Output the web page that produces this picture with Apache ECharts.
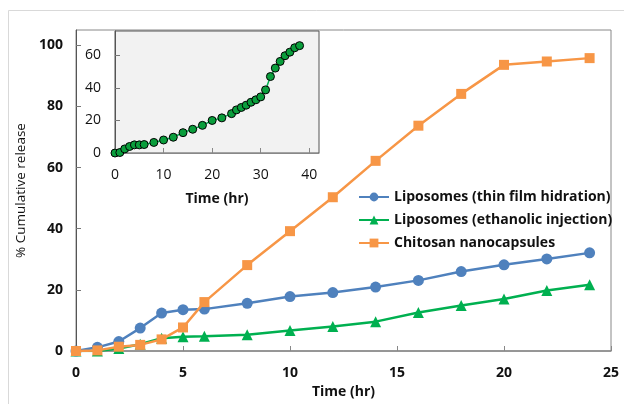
<!DOCTYPE html>
<html>
<head>
<meta charset="utf-8">
<script src="https://cdn.jsdelivr.net/npm/echarts@6/dist/echarts.min.js"></script>
<style>
html,body{margin:0;padding:0;background:#fff;}
#chart{width:624px;height:404px;}
</style>
</head>
<body>
<div id="chart"></div>
<script>
// Main chart data
var timeMain = [0, 1, 2, 3, 4, 5, 6, 8, 10, 12, 14, 16, 18, 20, 22, 24];
var thinFilm = [0, 1.2, 3.1, 7.5, 12.4, 13.5, 13.7, 15.6, 17.8, 19.1, 20.9, 23.1, 26, 28.2, 30.1, 32.1];
var ethanolic = [0, 0, 0.8, 2.2, 4.2, 4.7, 4.8, 5.3, 6.7, 8, 9.6, 12.6, 14.9, 17, 19.8, 21.7];
var chitosan = [0, 0.2, 1.4, 2, 3.8, 7.7, 16, 28.1, 39.2, 50.3, 62.2, 73.7, 84.1, 93.6, 94.7, 95.8];
var seriesNames = ['Liposomes (thin film hidration)', 'Liposomes (ethanolic injection)', 'Chitosan nanocapsules'];

// Inset data
var timeInset = [0, 1, 2, 3, 4, 5, 6, 8, 10, 12, 14, 16, 18, 20, 22, 24, 25, 26, 27, 28, 29, 30, 31, 32, 33, 34, 35, 36, 37, 38];
var insetVals = [0, 0.3, 2.5, 4, 5, 5, 5.2, 6.5, 8, 9.7, 12.5, 14.6, 17, 20, 21.6, 24.2, 26.5, 28, 29.4, 31.2, 32.7, 34.5, 38.8, 47, 52.2, 56.3, 59.8, 62, 64.7, 66];

var axisTitleX = 'Time (hr)';
var axisTitleY = '% Cumulative release';

function pairs(xs, ys) { return xs.map(function (x, i) { return [x, ys[i]]; }); }

var FONT = '"Open Sans", "Liberation Sans", sans-serif';
var TXT = '#111';

var chart = echarts.init(document.getElementById('chart'), null, {renderer: 'canvas'});
chart.setOption({
  animation: false,
  backgroundColor: '#fff',
  graphic: [{
    type: 'rect', silent: true, z: -10,
    shape: {x: 8.5, y: 10.5, width: 700, height: 500},
    style: {fill: 'none', stroke: '#d9d9d9', lineWidth: 1}
  }],
  legend: {
    orient: 'vertical', left: 353, top: 185,
    itemWidth: 30, itemHeight: 11, itemGap: 9,
    data: seriesNames,
    textStyle: {fontFamily: FONT, fontWeight: 'bold', fontSize: 14, color: TXT}
  },
  grid: [
    {left: 76, right: 13, top: 30, bottom: 53, show: true, borderColor: '#888', borderWidth: 1},
    {left: 115, right: 305, top: 31, bottom: 251, show: true, backgroundColor: '#f2f2f2', borderColor: '#555', borderWidth: 1}
  ],
  xAxis: [
    {
      gridIndex: 0, type: 'value', min: 0, max: 25, interval: 5,
      name: axisTitleX, nameLocation: 'middle', nameGap: 32,
      nameTextStyle: {fontFamily: FONT, fontWeight: 'bold', fontSize: 14, color: TXT},
      axisLine: {lineStyle: {color: '#888', width: 1.5}},
      axisTick: {inside: true, length: 5, lineStyle: {color: '#888'}},
      axisLabel: {margin: 15, fontFamily: FONT, fontWeight: 'bold', fontSize: 14, color: TXT},
      splitLine: {show: false}
    },
    {
      gridIndex: 1, type: 'value', min: 0, max: 42, interval: 10,
      name: axisTitleX, nameLocation: 'middle', nameGap: 39,
      nameTextStyle: {fontFamily: FONT, fontWeight: 'bold', fontSize: 14, color: TXT},
      axisLine: {lineStyle: {color: '#888'}},
      axisTick: {inside: true, length: 5, lineStyle: {color: '#888'}},
      axisLabel: {margin: 15, showMaxLabel: false, fontFamily: FONT, fontSize: 14, color: TXT},
      splitLine: {show: false}
    }
  ],
  yAxis: [
    {
      gridIndex: 0, type: 'value', min: 0, max: 105, interval: 20,
      name: axisTitleY, nameLocation: 'middle', nameGap: 47,
      nameTextStyle: {fontFamily: FONT, fontSize: 13.5, color: TXT},
      axisLine: {show: true, lineStyle: {color: '#555'}},
      axisTick: {show: true, inside: true, length: 5, lineStyle: {color: '#777'}},
      axisLabel: {margin: 13, showMaxLabel: false, fontFamily: FONT, fontWeight: 'bold', fontSize: 14, color: TXT},
      splitLine: {show: false}
    },
    {
      gridIndex: 1, type: 'value', min: 0, max: 75, interval: 20,
      axisLine: {show: true, lineStyle: {color: '#555'}},
      axisTick: {show: true, inside: true, length: 5, lineStyle: {color: '#777'}},
      axisLabel: {margin: 14, showMaxLabel: false, fontFamily: FONT, fontSize: 14, color: TXT},
      splitLine: {show: false}
    }
  ],
  series: [
    {
      name: seriesNames[0], type: 'line', xAxisIndex: 0, yAxisIndex: 0,
      data: pairs(timeMain, thinFilm),
      symbol: 'circle', symbolSize: 11, z: 3,
      lineStyle: {color: '#4F81BD', width: 2.5},
      itemStyle: {color: '#4F81BD'}
    },
    {
      name: seriesNames[1], type: 'line', xAxisIndex: 0, yAxisIndex: 0,
      data: pairs(timeMain, ethanolic),
      symbol: 'triangle', symbolSize: 11, z: 2,
      lineStyle: {color: '#00B050', width: 2.5},
      itemStyle: {color: '#00B050'}
    },
    {
      name: seriesNames[2], type: 'line', xAxisIndex: 0, yAxisIndex: 0,
      data: pairs(timeMain, chitosan),
      symbol: 'rect', symbolSize: 10, z: 4,
      lineStyle: {color: '#F79646', width: 2.5},
      itemStyle: {color: '#F79646'}
    },
    {
      name: 'inset', type: 'line', xAxisIndex: 1, yAxisIndex: 1,
      data: pairs(timeInset, insetVals),
      symbol: 'circle', symbolSize: 8,
      lineStyle: {color: '#00B050', width: 1.5},
      itemStyle: {color: '#0A9E3C', borderColor: '#000', borderWidth: 1}
    }
  ]
});
</script>
</body>
</html>
